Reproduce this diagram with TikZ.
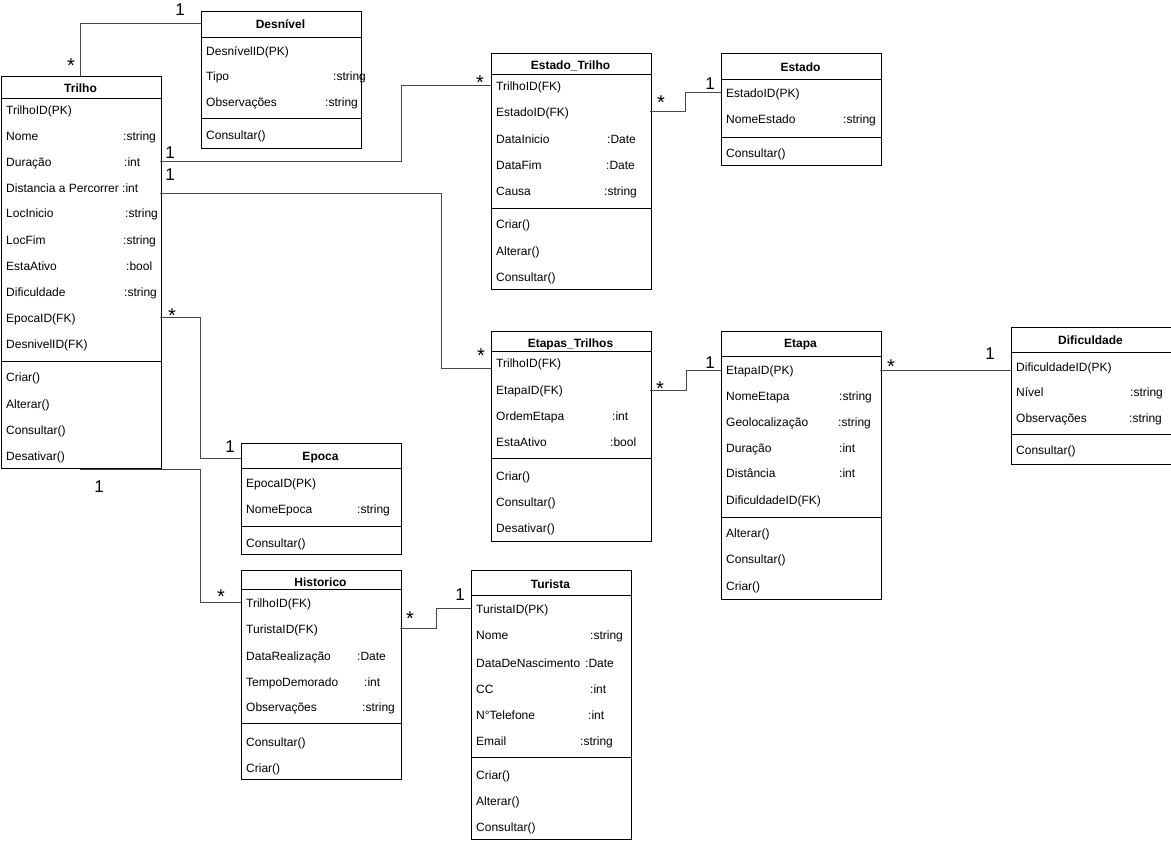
\documentclass[tikz,border=0pt]{standalone}
\usepackage{fontspec}
\setmainfont{Liberation Sans}
\begin{document}
\begin{tikzpicture}[x=1pt,y=-1pt,
  cls/.style={draw=black, line width=0.8pt, fill=white, anchor=north west, inner sep=0pt, minimum width=160pt},
  sepl/.style={draw=black, line width=0.8pt},
  ttl/.style={font=\fontsize{12}{14}\selectfont\bfseries, inner sep=0pt, text height=8.6pt, text depth=0pt, anchor=center},
  attr/.style={font=\fontsize{12}{14}\selectfont, inner sep=0pt, text height=8.6pt, text depth=0pt, anchor=west},
  mult/.style={font=\fontsize{17}{20}\selectfont, inner sep=0pt, anchor=base},
  many/.style={font=\fontsize{20}{22}\selectfont, inner sep=0pt, anchor=base},
  conn/.style={draw=black!72, line width=0.8pt}
]
\useasboundingbox (0,0) rectangle (1171,843);
\fill[white] (0,0) rectangle (1171,843);

% ---------- Trilho ----------
\node[cls, minimum height=392pt] (trilho) at (0.5,76) {};
\node[ttl] (trT) at (80.5,88) {Trilho};
\draw[sepl] (0.5,98) -- (160.5,98);
\node[attr] (tr1) at (6,110) {TrilhoID(PK)};
\node[attr] (tr2) at (6,136) {Nome};
\node[attr] (tr2t) at (123,136) {:string};
\node[attr] (tr3) at (6,162) {Duração};
\node[attr] (tr3t) at (124,162) {:int};
\node[attr] (tr4) at (6,188) {Distancia a Percorrer :int};
\node[attr] (tr5) at (6,213) {LocInicio};
\node[attr] (tr5t) at (125,213) {:string};
\node[attr] (tr6) at (6,240) {LocFim};
\node[attr] (tr6t) at (123,240) {:string};
\node[attr] (tr7) at (6,266) {EstaAtivo};
\node[attr] (tr7t) at (126,266) {:bool};
\node[attr] (tr8) at (6,292) {Dificuldade};
\node[attr] (tr8t) at (124,292) {:string};
\node[attr] (tr9) at (6,318) {EpocaID(FK)};
\node[attr] (tr10) at (6,344) {DesnivelID(FK)};
\draw[sepl] (0.5,361) -- (160.5,361);
\node[attr] (trm1) at (6,377) {Criar()};
\node[attr] (trm2) at (6,404) {Alterar()};
\node[attr] (trm3) at (6,430) {Consultar()};
\node[attr] (trm4) at (6,456) {Desativar()};

% ---------- Desnivel ----------
\node[cls, minimum height=137pt] (desn) at (200.5,11) {};
\node[ttl] (deT) at (280.5,24) {Desnível};
\draw[sepl] (200.5,37) -- (360.5,37);
\node[attr] (de1) at (206,51) {DesnívelID(PK)};
\node[attr] (de2) at (206,76) {Tipo};
\node[attr] (de2t) at (333,76) {:string};
\node[attr] (de3) at (206,102) {Observações};
\node[attr] (de3t) at (325,102) {:string};
\draw[sepl] (200.5,118) -- (360.5,118);
\node[attr] (dem1) at (206,135) {Consultar()};

% ---------- Estado_Trilho ----------
\node[cls, minimum height=235pt] (estT) at (490.5,53.5) {};
\node[ttl] (etT) at (570.5,65) {Estado\_Trilho};
\draw[sepl] (490.5,74) -- (650.5,74);
\node[attr] (et1) at (496,86) {TrilhoID(FK)};
\node[attr] (et2) at (496,112) {EstadoID(FK)};
\node[attr] (et3) at (496,139) {DataInicio};
\node[attr] (et3t) at (607,139) {:Date};
\node[attr] (et4) at (496,165) {DataFim};
\node[attr] (et4t) at (606,165) {:Date};
\node[attr] (et5) at (496,191) {Causa};
\node[attr] (et5t) at (604,191) {:string};
\draw[sepl] (490.5,208) -- (650.5,208);
\node[attr] (etm1) at (496,224) {Criar()};
\node[attr] (etm2) at (496,251) {Alterar()};
\node[attr] (etm3) at (496,277) {Consultar()};

% ---------- Estado ----------
\node[cls, minimum height=111.5pt] (estado) at (720.5,53.5) {};
\node[ttl] (esT) at (800.5,67) {Estado};
\draw[sepl] (720.5,79) -- (880.5,79);
\node[attr] (es1) at (726,93) {EstadoID(PK)};
\node[attr] (es2) at (726,119) {NomeEstado};
\node[attr] (es2t) at (843,119) {:string};
\draw[sepl] (720.5,137) -- (880.5,137);
\node[attr] (esm1) at (726,153) {Consultar()};

% ---------- Etapas_Trilhos ----------
\node[cls, minimum height=210pt] (etpT) at (490.5,330.5) {};
\node[ttl] (ptT) at (570.5,343) {Etapas\_Trilhos};
\draw[sepl] (490.5,351) -- (650.5,351);
\node[attr] (pt1) at (496,363) {TrilhoID(FK)};
\node[attr] (pt2) at (496,390) {EtapaID(FK)};
\node[attr] (pt3) at (496,416) {OrdemEtapa};
\node[attr] (pt3t) at (612,416) {:int};
\node[attr] (pt4) at (496,442) {EstaAtivo};
\node[attr] (pt4t) at (610,442) {:bool};
\draw[sepl] (490.5,458) -- (650.5,458);
\node[attr] (ptm1) at (496,476) {Criar()};
\node[attr] (ptm2) at (496,502) {Consultar()};
\node[attr] (ptm3) at (496,528) {Desativar()};

% ---------- Etapa ----------
\node[cls, minimum height=268pt] (etapa) at (720.5,330.5) {};
\node[ttl] (eaT) at (800.5,343) {Etapa};
\draw[sepl] (720.5,356) -- (880.5,356);
\node[attr] (ea1) at (726,370) {EtapaID(PK)};
\node[attr] (ea2) at (726,396) {NomeEtapa};
\node[attr] (ea2t) at (839,396) {:string};
\node[attr] (ea3) at (726,422) {Geolocalização};
\node[attr] (ea3t) at (838,422) {:string};
\node[attr] (ea4) at (726,448) {Duração};
\node[attr] (ea4t) at (839,448) {:int};
\node[attr] (ea5) at (726,473) {Distância};
\node[attr] (ea5t) at (839,473) {:int};
\node[attr] (ea6) at (726,500) {DificuldadeID(FK)};
\draw[sepl] (720.5,517) -- (880.5,517);
\node[attr] (eam1) at (726,533) {Alterar()};
\node[attr] (eam2) at (726,559) {Consultar()};
\node[attr] (eam3) at (726,586) {Criar()};

% ---------- Dificuldade ----------
\node[cls, minimum height=137pt] (dific) at (1010.5,327) {};
\node[ttl] (diT) at (1090.5,340) {Dificuldade};
\draw[sepl] (1010.5,352) -- (1170.5,352);
\node[attr] (di1) at (1016,367) {DificuldadeID(PK)};
\node[attr] (di2) at (1016,392) {Nível};
\node[attr] (di2t) at (1130,392) {:string};
\node[attr] (di3) at (1016,418) {Observações};
\node[attr] (di3t) at (1129,418) {:string};
\draw[sepl] (1010.5,434) -- (1170.5,434);
\node[attr] (dim1) at (1016,450) {Consultar()};

% ---------- Epoca ----------
\node[cls, minimum height=111pt] (epoca) at (240.5,443) {};
\node[ttl] (epT) at (320.5,456) {Epoca};
\draw[sepl] (240.5,468) -- (400.5,468);
\node[attr] (ep1) at (246,483) {EpocaID(PK)};
\node[attr] (ep2) at (246,509) {NomeEpoca};
\node[attr] (ep2t) at (357,509) {:string};
\draw[sepl] (240.5,526) -- (400.5,526);
\node[attr] (epm1) at (246,543) {Consultar()};

% ---------- Historico ----------
\node[cls, minimum height=209.5pt] (hist) at (240.5,569.5) {};
\node[ttl] (hiT) at (320.5,582) {Historico};
\draw[sepl] (240.5,589) -- (400.5,589);
\node[attr] (hi1) at (246,603) {TrilhoID(FK)};
\node[attr] (hi2) at (246,629) {TuristaID(FK)};
\node[attr] (hi3) at (246,656) {DataRealização};
\node[attr] (hi3t) at (357,656) {:Date};
\node[attr] (hi4) at (246,682) {TempoDemorado};
\node[attr] (hi4t) at (364,682) {:int};
\node[attr] (hi5) at (246,707) {Observações};
\node[attr] (hi5t) at (362,707) {:string};
\draw[sepl] (240.5,723) -- (400.5,723);
\node[attr] (him1) at (246,742) {Consultar()};
\node[attr] (him2) at (246,768) {Criar()};

% ---------- Turista ----------
\node[cls, minimum height=269pt] (turista) at (470.5,569.5) {};
\node[ttl] (tuT) at (550.5,584) {Turista};
\draw[sepl] (470.5,595) -- (630.5,595);
\node[attr] (tu1) at (476,609) {TuristaID(PK)};
\node[attr] (tu2) at (476,635) {Nome};
\node[attr] (tu2t) at (590,635) {:string};
\node[attr] (tu3) at (476,663) {DataDeNascimento};
\node[attr] (tu3t) at (585,663) {:Date};
\node[attr] (tu4) at (476,689) {CC};
\node[attr] (tu4t) at (590,689) {:int};
\node[attr] (tu5) at (476,715) {N°Telefone};
\node[attr] (tu5t) at (588,715) {:int};
\node[attr] (tu6) at (476,741) {Email};
\node[attr] (tu6t) at (580,741) {:string};
\draw[sepl] (470.5,757) -- (630.5,757);
\node[attr] (tum1) at (476,775) {Criar()};
\node[attr] (tum2) at (476,801) {Alterar()};
\node[attr] (tum3) at (476,827) {Consultar()};

% ---------- junction coordinates ----------
\coordinate (j1) at (80.5,23.5);
\coordinate (j2a) at (160,161.5);
\coordinate (j2) at (401,85.5);
\coordinate (j3a) at (160,193.5);
\coordinate (j3) at (441,368.5);
\coordinate (j4a) at (650,111.5);
\coordinate (j4) at (685.5,92.5);
\coordinate (j5a) at (650,390.5);
\coordinate (j5) at (686,370.5);
\coordinate (j6) at (880,370.5);
\coordinate (j7a) at (160,317.5);
\coordinate (j7) at (200.5,458.5);
\coordinate (j8a) at (80,469.5);
\coordinate (j8) at (200.5,602.5);
\coordinate (j9a) at (400,628.5);
\coordinate (j9) at (436,608.5);

% ---------- connectors ----------
\draw[conn] (trilho.north -| j1) -- (j1) -- (desn.west |- j1);
\draw[conn] (j2a) -| (j2) -- (estT.west |- j2);
\draw[conn] (j3a) -| (j3) -- (etpT.west |- j3);
\draw[conn] (j4a) -| (j4) -- (estado.west |- j4);
\draw[conn] (j5a) -| (j5) -- (etapa.west |- j5);
\draw[conn] (j6) -- (dific.west |- j6);
\draw[conn] (j7a) -| (j7) -- (epoca.west |- j7);
\draw[conn] (j8a) -| (j8) -- (hist.west |- j8);
\draw[conn] (j9a) -| (j9) -- (turista.west |- j9);

% ---------- multiplicities ----------
\node[many] (m1a) at (71,72.5) {*};
\node[mult] (m1b) at (180,16) {1};
\node[mult] (m2a) at (170,158) {1};
\node[many] (m2b) at (480,89) {*};
\node[mult] (m3a) at (170,180) {1};
\node[many] (m3b) at (481,362) {*};
\node[many] (m4a) at (661,110) {*};
\node[mult] (m4b) at (710,89) {1};
\node[many] (m5a) at (660,395) {*};
\node[mult] (m5b) at (710,368) {1};
\node[many] (m6a) at (891,373) {*};
\node[mult] (m6b) at (990,359) {1};
\node[many] (m7a) at (172,322) {*};
\node[mult] (m7b) at (230,452) {1};
\node[mult] (m8a) at (99,492) {1};
\node[many] (m8b) at (221,603) {*};
\node[many] (m9a) at (410,625) {*};
\node[mult] (m9b) at (460,600) {1};
\end{tikzpicture}
\end{document}
